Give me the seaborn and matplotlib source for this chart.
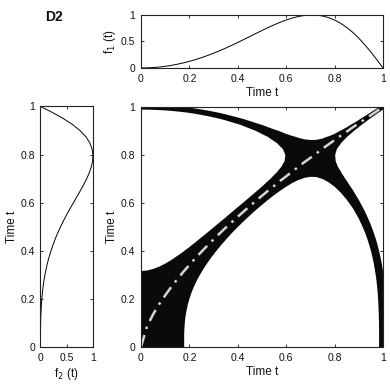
import numpy as np
import seaborn as sns
import matplotlib.pyplot as plt

#---------------------

# time axis and the two signals
t = np.linspace(0, 1, 41)

f1 = [0.000, 0.002, 0.008, 0.018, 0.031, 0.049, 0.071, 0.096, 0.125, 0.158,
      0.195, 0.235, 0.279, 0.326, 0.375, 0.428, 0.482, 0.538, 0.594, 0.651,
      0.707, 0.762, 0.814, 0.862, 0.905, 0.942, 0.971, 0.990, 0.999, 0.997,
      0.981, 0.950, 0.905, 0.843, 0.765, 0.672, 0.562, 0.438, 0.302, 0.155,
      0.000]

f2 = [0.000, 0.000, 0.000, 0.001, 0.003, 0.006, 0.011, 0.017, 0.025, 0.036,
      0.049, 0.065, 0.085, 0.108, 0.134, 0.165, 0.200, 0.239, 0.282, 0.330,
      0.383, 0.439, 0.499, 0.562, 0.628, 0.694, 0.760, 0.823, 0.881, 0.931,
      0.970, 0.994, 0.999, 0.981, 0.936, 0.861, 0.752, 0.609, 0.433, 0.228,
      0.000]

# line of synchronisation
los = [0.000, 0.086, 0.136, 0.178, 0.215, 0.250, 0.282, 0.313, 0.342, 0.370,
       0.397, 0.423, 0.448, 0.473, 0.497, 0.520, 0.543, 0.565, 0.587, 0.609,
       0.630, 0.651, 0.671, 0.692, 0.711, 0.731, 0.750, 0.770, 0.788, 0.807,
       0.826, 0.844, 0.862, 0.880, 0.897, 0.915, 0.932, 0.949, 0.966, 0.983,
       1.000]

eps = 0.1

#---------------------

sns.set_style('ticks')
plt.rcParams.update({
    'font.family': ['Liberation Sans', 'DejaVu Sans'],
    'font.size': 7.5,
    'axes.labelsize': 8.5,
    'text.color': '#111111',
    'axes.labelcolor': '#111111',
    'xtick.color': '#111111', 'ytick.color': '#111111',
    'xtick.direction': 'in', 'ytick.direction': 'in',
    'xtick.top': True, 'ytick.right': True,
    'xtick.major.size': 2.5, 'ytick.major.size': 2.5,
    'xtick.major.width': 0.6, 'ytick.major.width': 0.6,
    'xtick.major.pad': 4.5, 'ytick.major.pad': 4.0,
    'axes.linewidth': 0.8,
    'axes.edgecolor': '#222222',
    'axes.labelpad': 2.0,
})

fig = plt.figure(figsize=(3.9, 3.87), dpi=100)
ax_top = fig.add_axes([0.3615, 0.8243, 0.6205, 0.137])
ax_left = fig.add_axes([0.1038, 0.1034, 0.1346, 0.6215])
ax_crp = fig.add_axes([0.3615, 0.1034, 0.6205, 0.6202])

ticks = [0, 0.2, 0.4, 0.6, 0.8, 1]
labels = ['0', '0.2', '0.4', '0.6', '0.8', '1']

# top: f1
sns.lineplot(x=t, y=f1, ax=ax_top, color='k', lw=0.7)
ax_top.set_xlim(0, 1)
ax_top.set_ylim(0, 1)
ax_top.set_xticks(ticks, labels)
ax_top.set_yticks([0, 0.5, 1], ['0', '0.5', '1'])
ax_top.set_xlabel('Time t')
ax_top.set_ylabel('f$_1$ (t)')

# left: f2, vertical
sns.lineplot(x=f2, y=t, ax=ax_left, color='k', lw=0.7, orient='y')
ax_left.set_xlim(0, 1)
ax_left.set_ylim(0, 1)
ax_left.set_xticks([0, 0.5, 1], ['0', '0.5', '1'])
ax_left.set_yticks(ticks, labels)
ax_left.set_xlabel('f$_2$ (t)')
ax_left.set_ylabel('Time t')

# cross recurrence plot
D = np.subtract.outer(np.array(f2), np.array(f1))
ax_crp.contourf(t, t, D, levels=[-eps, eps], colors='#0a0a0a', antialiased=True)
sns.lineplot(x=t, y=los, ax=ax_crp, color='#d4d4d4', lw=1.8,
             linestyle=(0, (5, 2.5, 1, 2.5)))
ax_crp.set_xlim(0, 1)
ax_crp.set_ylim(0, 1)
ax_crp.set_xticks(ticks, labels)
ax_crp.set_yticks(ticks, labels)
ax_crp.set_xlabel('Time t')
ax_crp.set_ylabel('Time t')

fig.text(0.115, 0.955, 'D2', fontsize=10, fontweight='bold', va='center')

fig.savefig('out.png', dpi=100)
